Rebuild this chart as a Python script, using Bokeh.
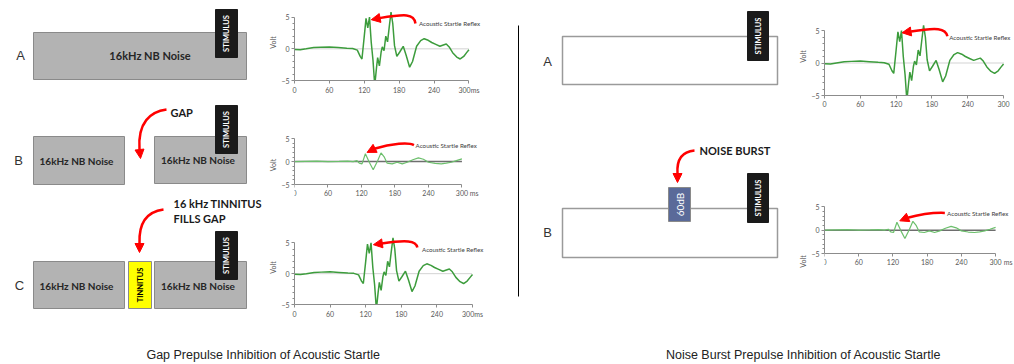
import numpy as np
from bokeh.plotting import figure
from bokeh.layouts import row, column
from bokeh.models import Range1d, FixedTicker, Arrow, NormalHead
from bokeh.core.properties import value
from bokeh.embed import file_html
from bokeh.resources import INLINE

# ---------------- data ----------------
# startle response (no inhibition): time (ms) / volt
t_startle = [0, 10, 20, 33, 45, 60, 75, 90, 100, 108, 113, 116, 120, 123, 126, 129, 132, 135, 138, 141,
             143, 146, 149, 151, 154, 157, 160, 163, 166, 169, 172, 176, 181, 187, 192, 198, 203, 210, 217, 223,
             230, 236, 243, 250, 256, 261, 266, 272, 279, 285, 291, 296, 300]
v_startle = [-0.1, -0.15, 0.0, 0.2, 0.25, 0.3, 0.2, 0.1, 0.05, -0.2, -1.2, -1.6, 2.0, 4.8, 3.3, 5.0, 1.0, -1.8, -5.8, -3.0,
             -1.4, -2.7, -0.5, 0.3, -0.3, 2.0, 1.1, 3.5, 5.8, 4.0, 0.5, -1.2, -0.5, 0.4, -1.0, -2.9, -2.0, 0.4, 1.3, 1.6,
             1.35, 1.0, 0.7, 0.4, 0.6, 0.75, 0.3, -0.6, -1.3, -1.6, -1.2, -0.6, -0.15]
# inhibited startle response
t_inhib = [0, 20, 40, 60, 80, 95, 105, 112, 116, 121, 127, 134, 141, 149, 155, 161, 166, 175, 184, 193,
           202, 212, 222, 231, 240, 252, 263, 272, 281, 290, 300]
v_inhib = [0.0, 0.05, 0.1, 0.0, 0.05, 0.1, 0.0, 0.2, -0.35, -0.5, 1.7, -0.15, -1.8, 0.2, 1.9, 0.95, -0.35, -0.5, -0.15, -0.5,
           -0.15, 0.4, 0.8, 0.5, -0.15, -0.4, -0.5, -0.35, -0.15, 0.2, 0.6]
x_ticks = [0, 60, 120, 180, 240, 300]
y_ticks = [-5, 0, 5]
y_minor = [-4, -3, -2, -1, 1, 2, 3, 4]
reflex_text = "Acoustic Startle Reflex"
noise_text = "16kHz NB Noise"
left_title = "Gap Prepulse Inhibition of Acoustic Startle"
right_title = "Noise Burst Prepulse Inhibition of Acoustic Startle"

FONT = value("Lato")
RED = "#ff0000"
AX = "#8c8c8c"
LBL = "#595959"
ROT = np.pi / 2  # screen-clockwise with the flipped y range


def chart(w, h, b_left, b_top, b_bottom, axis_px, ts, vs, strong, arr, txt, last_label, ms_sep=False):
    frame_w = w - b_left
    xmax = frame_w * 300.0 / axis_px
    ppu = (h - b_top - b_bottom) / 12.0
    if ms_sep:
        ylo = -5 - b_bottom / ppu
        bb = 0
    else:
        ylo = -5
        bb = b_bottom
    p = figure(width=w, height=h, x_range=Range1d(0, xmax), y_range=Range1d(ylo, 7),
               output_backend="svg", toolbar_location=None,
               min_border_left=b_left, min_border_right=0, min_border_top=b_top, min_border_bottom=bb)
    p.outline_line_color = None
    p.grid.visible = False
    for ax in (p.xaxis, p.yaxis):
        ax.axis_line_color = AX
        ax.major_tick_line_color = AX
        ax.minor_tick_line_color = AX
        ax.major_label_text_font = "Lato"
        ax.major_label_text_font_size = "7px"
        ax.major_label_text_color = LBL
        ax.major_tick_in = 0
        ax.minor_tick_in = 0
    p.xaxis.ticker = FixedTicker(ticks=x_ticks, minor_ticks=[])
    p.xaxis.bounds = (0, 300)
    p.xaxis.major_tick_out = 3
    p.xaxis.major_label_standoff = 2
    p.xaxis.major_label_overrides = {300: last_label}
    if ms_sep:
        p.xaxis.fixed_location = -5
    p.yaxis.ticker = FixedTicker(ticks=y_ticks, minor_ticks=y_minor)
    p.yaxis.bounds = (-5, 5)
    p.yaxis.major_tick_out = 3
    p.yaxis.minor_tick_out = 2
    p.yaxis.major_label_standoff = 2
    p.yaxis.axis_label = "Volt"
    p.yaxis.axis_label_text_font = "Lato"
    p.yaxis.axis_label_text_font_size = "7px"
    p.yaxis.axis_label_text_font_style = "normal"
    p.yaxis.axis_label_text_color = LBL
    p.yaxis.axis_label_standoff = 1
    # zero line
    if strong:
        p.line([0, 300], [0, 0], line_color="#6e6e6e", line_width=1.5)
        p.line(ts, vs, line_color="#6cbf6c", line_width=1.2)
    else:
        p.line([0, 300], [0, 0], line_color="#a6a6a6", line_width=1, line_dash="1 1")
        p.line(ts, vs, line_color="#3c9c3c", line_width=1.5)
    (x0, y0), (cx0, cy0), (cx1, cy1), (x1, y1), (xe, ye) = arr
    p.bezier(x0=[x0], y0=[y0], x1=[x1], y1=[y1], cx0=[cx0], cy0=[cy0], cx1=[cx1], cy1=[cy1],
             line_color=RED, line_width=2.5)
    p.add_layout(Arrow(end=NormalHead(size=9, fill_color=RED, line_color=RED),
                       x_start=x1, y_start=y1, x_end=xe, y_end=ye, line_color=RED, line_width=2.5))
    p.text(x=[txt[0]], y=[txt[1]], text=[reflex_text], text_font=FONT, text_font_size="6.2px",
           text_color="#404040", text_baseline="middle")
    if ms_sep:
        p.text(x=[322], y=[-5 - 8.5 / ppu], text=["ms"], text_font=FONT, text_font_size="7px",
               text_color=LBL, text_baseline="middle", text_align="center")
    return p


cA = chart(226, 100, 26, 4, 20, 178, t_startle, v_startle, False,
           [(208, 4.0), (206, 5.6), (190, 5.5), (146, 4.85), (132, 4.6)], (214, 4.0), "300ms")
cB = chart(226, 100, 27, 29, 16, 170, t_inhib, v_inhib, True,
           [(214, 3.6), (205, 4.2), (175, 4.0), (143, 2.8), (130, 2.0)], (217, 3.5), "300", ms_sep=True)
cC = chart(226, 125, 30, 30, 21, 178, t_startle, v_startle, False,
           [(207, 4.25), (205, 5.4), (188, 5.5), (147, 4.9), (133, 4.7)], (215, 4.0), "300ms")
rA = chart(218, 115, 27, 17, 20, 180, t_startle, v_startle, False,
           [(206, 4.1), (203, 5.4), (188, 5.5), (145, 4.85), (130, 4.65)], (209, 4.0), "300")
rB = chart(218, 210, 27, 82, 72, 172, t_inhib, v_inhib, True,
           [(211, 3.7), (190, 3.8), (165, 3.3), (144, 2.6), (132, 2.0)], (215, 3.6), "300", ms_sep=True)


def canvas(x0, x1, y0, y1):
    p = figure(width=x1 - x0, height=y1 - y0, x_range=Range1d(x0, x1), y_range=Range1d(y1, y0),
               x_axis_type=None, y_axis_type=None, output_backend="svg", toolbar_location=None,
               min_border=0)
    p.outline_line_color = None
    p.grid.visible = False
    return p


def red_arrow(p, pts):
    (x0, y0), (cx0, cy0), (cx1, cy1), (x1, y1), (xe, ye) = pts
    p.bezier(x0=[x0], y0=[y0], x1=[x1], y1=[y1], cx0=[cx0], cy0=[cy0], cx1=[cx1], cy1=[cy1],
             line_color=RED, line_width=2.5)
    p.add_layout(Arrow(end=NormalHead(size=9, fill_color=RED, line_color=RED),
                       x_start=x1, y_start=y1, x_end=xe, y_end=ye, line_color=RED, line_width=2.5))


def stim(p, l, r, t, b):
    p.quad(left=[l], right=[r], top=[t], bottom=[b], fill_color="#1a1a1a", line_color="#1a1a1a")
    p.text(x=[(l + r) / 2], y=[(t + b) / 2], text=["STIMULUS"], angle=ROT, text_font=FONT,
           text_font_style="bold", text_font_size="7.5px", text_color="white",
           text_align="center", text_baseline="middle")


# ---- left diagram ----
f1 = canvas(0, 264, 0, 325)
f1.text(x=[20, 18, 19], y=[55, 160, 285], text=["A", "B", "C"], text_font=value("Liberation Sans"),
        text_font_size="13px", text_color="#333333", text_align="center", text_baseline="middle")
gray_l = [33, 33, 154, 33, 154]
gray_r = [246, 124, 246, 124, 246]
gray_t = [32, 136, 136, 261, 261]
gray_b = [79, 184, 183, 308, 308]
f1.quad(left=gray_l, right=gray_r, top=gray_t, bottom=gray_b, fill_color="#b3b3b3", line_color="#8a8a8a")
f1.quad(left=[128], right=[151], top=[261], bottom=[308], fill_color="#ffff00", line_color="#8a8a8a")
f1.text(x=[139.5], y=[284.5], text=["TINNITUS"], angle=ROT, text_font=FONT, text_font_style="bold",
        text_font_size="7.5px", text_color="black", text_align="center", text_baseline="middle")
f1.text(x=[149.5], y=[55], text=[noise_text], text_font=FONT, text_font_style="bold", text_font_size="11px",
        text_color="#262626", text_align="center", text_baseline="middle")
f1.text(x=[76, 197.5, 76, 197.5], y=[160, 159, 285, 285], text=[noise_text] * 4, text_font=FONT,
        text_font_style="bold", text_font_size="10px", text_color="#262626", text_align="center",
        text_baseline="middle")
stim(f1, 215, 237, 9, 57)
stim(f1, 215, 237, 105, 153)
stim(f1, 215, 237, 231, 279)
f1.text(x=[170, 173, 173], y=[112, 203, 218], text=["GAP", "16 kHz TINNITUS", "FILLS GAP"], text_font=FONT,
        text_font_style="bold", text_font_size="11px", text_color="#1a1a1a", text_baseline="middle")
red_arrow(f1, [(166, 109), (150, 111), (137, 122), (139, 149), (140, 158)])
red_arrow(f1, [(163, 209), (148, 211), (138, 220), (139, 243), (139, 252)])

left_charts = column(cA, cB, cC)

# ---- right diagram ----
f3 = canvas(490, 796, 0, 325)
f3.line([518, 518], [25, 296], line_color="black", line_width=1)
f3.text(x=[547, 547], y=[61, 232], text=["A", "B"], text_font=value("Liberation Sans"),
        text_font_size="13px", text_color="#333333", text_align="center", text_baseline="middle")
f3.quad(left=[562, 562], right=[777, 777], top=[36, 208], bottom=[84, 257], fill_color="white",
        line_color="#9a9a9a", line_width=1.5)
stim(f3, 747, 768, 11, 60)
stim(f3, 747, 768, 173, 222)
f3.quad(left=[668], right=[690], top=[187], bottom=[221], fill_color="#5a6a99", line_color="#8a8a8a")
f3.text(x=[679], y=[204], text=["60dB"], angle=ROT, text_font=FONT, text_font_size="10px",
        text_color="white", text_align="center", text_baseline="middle")
f3.text(x=[699], y=[150], text=["NOISE BURST"], text_font=FONT, text_font_style="bold",
        text_font_size="11px", text_color="#1a1a1a", text_baseline="middle")
red_arrow(f3, [(694, 150), (682, 151), (676, 158), (677, 173), (677, 182)])

right_charts = column(rA, rB)

# ---- titles ----
ft = canvas(0, 1014, 325, 364)
ft.text(x=[263, 803], y=[354, 354], text=[left_title, right_title], text_font=value("Liberation Sans"),
        text_font_size="12.5px", text_color="#222222", text_align="center", text_baseline="middle")

page = column(row(f1, left_charts, f3, right_charts), ft)

open("out.html", "w").write(file_html(page, INLINE))
